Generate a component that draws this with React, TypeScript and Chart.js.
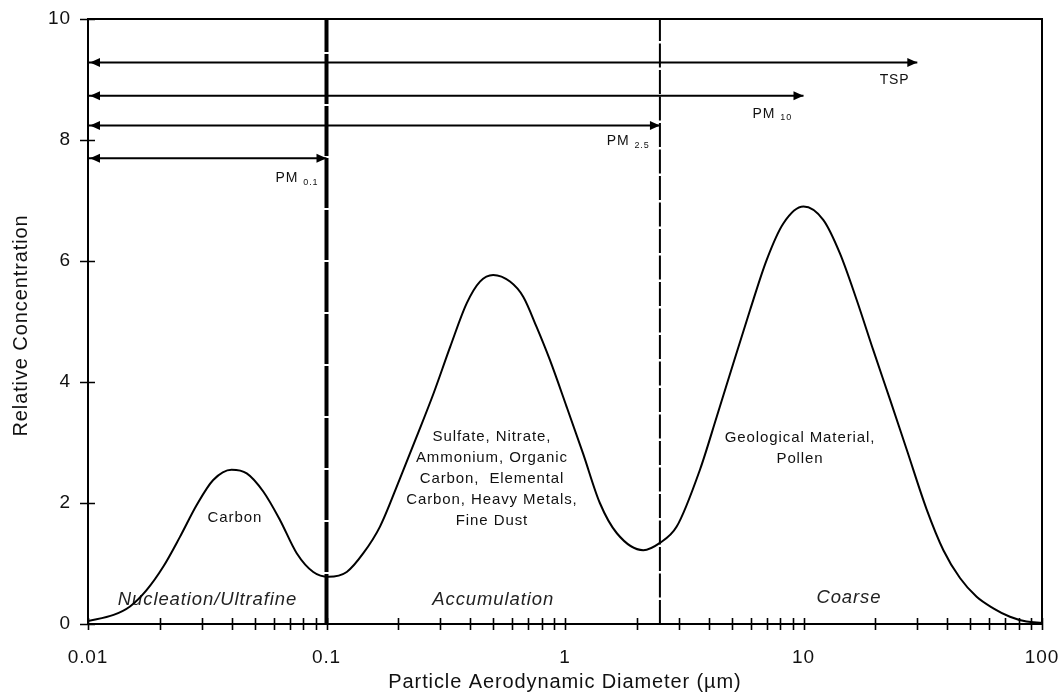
import React, { useEffect, useRef } from "react";
import { Chart, registerables } from "chart.js";

Chart.register(...registerables);

// ---- data ----
const diameters = [
  0.01, 0.0128, 0.015, 0.0176, 0.0207, 0.0243, 0.0286, 0.0335, 0.04, 0.0463,
  0.0543, 0.0638, 0.075, 0.088, 0.102, 0.1216, 0.1427, 0.1676, 0.203, 0.239,
  0.281, 0.33, 0.387, 0.44, 0.5, 0.588, 0.668, 0.76, 0.865, 1.016,
  1.19, 1.4, 1.65, 2.13, 2.5, 2.94, 3.68, 4.33, 5.08, 5.97,
  7.01, 8.23, 10, 12.1, 14.2, 16.7, 19.6, 23.1, 27.1, 32.8,
  38.6, 45.3, 53.2, 62.5, 73.4, 86.2, 100,
];
const concentrations = [
  0.05, 0.15, 0.29, 0.56, 0.95, 1.44, 1.97, 2.38, 2.55, 2.49,
  2.19, 1.72, 1.17, 0.86, 0.78, 0.86, 1.17, 1.61, 2.4, 3.1,
  3.81, 4.58, 5.3, 5.66, 5.77, 5.66, 5.41, 4.91, 4.36, 3.59,
  2.82, 2.0, 1.5, 1.22, 1.34, 1.61, 2.55, 3.43, 4.31, 5.19,
  6.02, 6.62, 6.9, 6.68, 6.13, 5.36, 4.53, 3.7, 2.88, 1.9,
  1.22, 0.76, 0.45, 0.26, 0.12, 0.04, 0.02,
];

const yTickValues = [0, 2, 4, 6, 8, 10];
const xDecadeTicks = [0.01, 0.1, 1, 10, 100];
const xMinorSteps = [2, 3, 4, 5, 6, 7, 8, 9];

const cutPoints = [0.1, 2.5];

const fractionNames = ["TSP", "PM", "PM", "PM"];
const fractionSubs = ["", "10", "2.5", "0.1"];
const fractionUpper = [30, 10, 2.5, 0.1];
const fractionLevels = [9.28, 8.73, 8.24, 7.7];
const fractionLabelX = [24.1, 7.4, 1.84, 0.0752];
const fractionLabelY = [8.99, 8.43, 7.98, 7.37];

const modeNames = ["Nucleation/Ultrafine", "Accumulation", "Coarse"];
const modeX = [0.0317, 0.5, 15.5];
const modeY = [0.4, 0.4, 0.43];

const sourceTexts = [
  ["Carbon"],
  ["Sulfate, Nitrate,", "Ammonium, Organic", "Carbon,  Elemental", "Carbon, Heavy Metals,", "Fine Dust"],
  ["Geological Material,", "Pollen"],
];
const sourceX = [0.0413, 0.494, 9.67];
const sourceY = [1.75, 3.1, 3.07];

const xTitle = "Particle Aerodynamic Diameter (\u00b5m)";
const yTitle = "Relative Concentration";

const FONT = '"Liberation Sans", Arial, Helvetica, sans-serif';
const SPACING = "0.9px";

const setSpacing = (ctx: any, v: string) => {
  try {
    ctx.letterSpacing = v;
  } catch (e) {
    /* ignore */
  }
};

const decorPlugin = {
  id: "decor",
  beforeUpdate(chart: any) {
    setSpacing(chart.ctx, SPACING);
  },
  beforeDraw(chart: any) {
    setSpacing(chart.ctx, SPACING);
  },
  beforeDatasetsDraw(chart: any) {
    const { ctx } = chart;
    const x = chart.scales.x;
    const y = chart.scales.y;
    ctx.save();
    setSpacing(ctx, SPACING);
    ctx.textAlign = "center";
    ctx.textBaseline = "middle";
    ctx.fillStyle = "#222";
    ctx.font = `italic 18.5px ${FONT}`;
    modeNames.forEach((t, i) => {
      ctx.fillText(t, x.getPixelForValue(modeX[i]), y.getPixelForValue(modeY[i]));
    });
    ctx.fillStyle = "#111";
    ctx.font = `15px ${FONT}`;
    sourceTexts.forEach((lines, i) => {
      const cx = x.getPixelForValue(sourceX[i]);
      const cy = y.getPixelForValue(sourceY[i]);
      lines.forEach((l, j) => ctx.fillText(l, cx, cy + j * 21));
    });
    ctx.restore();
  },
  afterDatasetsDraw(chart: any) {
    const { ctx, chartArea } = chart;
    const x = chart.scales.x;
    const y = chart.scales.y;
    ctx.save();
    setSpacing(ctx, SPACING);

    // arrowheads
    ctx.fillStyle = "#000";
    chart.data.datasets.forEach((ds: any, i: number) => {
      if (!ds.arrow) return;
      const meta = chart.getDatasetMeta(i);
      const p0 = meta.data[0];
      const p1 = meta.data[meta.data.length - 1];
      ctx.beginPath();
      ctx.moveTo(p0.x + 2, p0.y);
      ctx.lineTo(p0.x + 12, p0.y - 4.5);
      ctx.lineTo(p0.x + 12, p0.y + 4.5);
      ctx.closePath();
      ctx.fill();
      ctx.beginPath();
      ctx.moveTo(p1.x, p1.y);
      ctx.lineTo(p1.x - 10, p1.y - 4.5);
      ctx.lineTo(p1.x - 10, p1.y + 4.5);
      ctx.closePath();
      ctx.fill();
    });

    // frame
    ctx.strokeStyle = "#000";
    ctx.lineWidth = 2;
    ctx.strokeRect(chartArea.left, chartArea.top, chartArea.right - chartArea.left, chartArea.bottom - chartArea.top);

    // tick marks crossing the axes
    ctx.lineWidth = 1.6;
    ctx.beginPath();
    x.ticks.forEach((t: any) => {
      const px = Math.round(x.getPixelForValue(t.value)) + 0.5;
      ctx.moveTo(px, chartArea.bottom - 6);
      ctx.lineTo(px, chartArea.bottom + 6);
    });
    yTickValues.forEach((v) => {
      const py = Math.round(y.getPixelForValue(v)) + 0.5;
      ctx.moveTo(chartArea.left - 8, py);
      ctx.lineTo(chartArea.left + 7, py);
    });
    ctx.stroke();

    // size fraction labels
    ctx.fillStyle = "#111";
    ctx.textBaseline = "middle";
    ctx.textAlign = "left";
    fractionNames.forEach((name, i) => {
      const cx = x.getPixelForValue(fractionLabelX[i]);
      const cy = y.getPixelForValue(fractionLabelY[i]);
      ctx.font = `14px ${FONT}`;
      const w1 = ctx.measureText(name).width;
      ctx.font = `9px ${FONT}`;
      const sub = fractionSubs[i];
      const w2 = sub ? ctx.measureText(sub).width + 5 : 0;
      const start = cx - (w1 + w2) / 2;
      ctx.font = `14px ${FONT}`;
      ctx.fillText(name, start, cy);
      if (sub) {
        ctx.font = `9px ${FONT}`;
        ctx.fillText(sub, start + w1 + 5, cy + 4);
      }
    });

    // axis titles
    ctx.font = `20px ${FONT}`;
    ctx.fillStyle = "#111";
    ctx.textAlign = "center";
    ctx.textBaseline = "middle";
    ctx.fillText(xTitle, (chartArea.left + chartArea.right) / 2, chartArea.bottom + 58);
    ctx.translate(21, (chartArea.top + chartArea.bottom) / 2 + 4);
    ctx.rotate(-Math.PI / 2);
    ctx.fillText(yTitle, 0, 0);
    ctx.restore();
  },
};

export default function App() {
  const ref = useRef<HTMLCanvasElement>(null);

  useEffect(() => {
    document.body.style.margin = "0";
    const canvas = ref.current;
    if (!canvas) return;

    const curve = diameters.map((d, i) => ({ x: d, y: concentrations[i] }));

    const cutDatasets = cutPoints.map((c, i) => ({
      label: `cut${i}`,
      data: [
        { x: c, y: 0 },
        { x: c, y: 10 },
      ],
      showLine: true,
      pointRadius: 0,
      borderColor: "#000",
      borderWidth: i === 0 ? 4 : 2,
      borderDash: i === 0 ? [50, 2] : [24, 2.5],
      borderCapStyle: "butt",
    }));

    const arrowDatasets = fractionUpper.map((u, i) => ({
      label: `frac${i}`,
      arrow: true,
      data: [
        { x: xDecadeTicks[0], y: fractionLevels[i] },
        { x: u, y: fractionLevels[i] },
      ],
      showLine: true,
      pointRadius: 0,
      borderColor: "#000",
      borderWidth: 2,
    }));

    const xTickList: number[] = [];
    xDecadeTicks.forEach((d, i) => {
      xTickList.push(d);
      if (i < xDecadeTicks.length - 1) xMinorSteps.forEach((m) => xTickList.push(m * d));
    });

    const chart = new Chart(canvas, {
      type: "scatter",
      data: {
        datasets: [
          {
            label: "Relative Concentration",
            data: curve,
            showLine: true,
            pointRadius: 0,
            borderColor: "#000",
            borderWidth: 2,
            cubicInterpolationMode: "monotone",
          } as any,
          ...(cutDatasets as any[]),
          ...(arrowDatasets as any[]),
        ],
      },
      options: {
        responsive: false,
        animation: false,
        events: [],
        layout: { padding: { top: 19, right: 20, left: 0, bottom: 0 } },
        plugins: {
          legend: { display: false },
          tooltip: { enabled: false },
        },
        scales: {
          x: {
            type: "logarithmic",
            min: 0.01,
            max: 100,
            grid: { display: false, drawTicks: false },
            border: { display: false },
            afterBuildTicks: (scale: any) => {
              scale.ticks = xTickList.map((v) => ({ value: v, major: xDecadeTicks.includes(v) }));
            },
            afterFit: (scale: any) => {
              scale.height = 72;
              scale.paddingLeft = 0;
              scale.paddingRight = 0;
              scale.paddingTop = 0;
              scale.paddingBottom = 0;
            },
            ticks: {
              autoSkip: false,
              maxRotation: 0,
              minRotation: 0,
              padding: 22,
              color: "#111",
              font: { family: FONT, size: 19 },
              callback: (v: any) => (xDecadeTicks.includes(Number(v)) ? String(v) : ""),
            },
          },
          y: {
            type: "linear",
            min: 0,
            max: 10,
            grid: { display: false, drawTicks: false },
            border: { display: false },
            afterFit: (scale: any) => {
              scale.width = 88;
              scale.paddingLeft = 0;
              scale.paddingRight = 0;
              scale.paddingTop = 0;
              scale.paddingBottom = 0;
            },
            ticks: {
              stepSize: 2,
              padding: 17,
              color: "#111",
              font: { family: FONT, size: 19 },
            },
          },
        },
      },
      plugins: [decorPlugin as any],
    });

    return () => chart.destroy();
  }, []);

  return (
    <div style={{ width: 1062, height: 696 }}>
      <canvas ref={ref} width={1062} height={696} style={{ display: "block" }} />
    </div>
  );
}
